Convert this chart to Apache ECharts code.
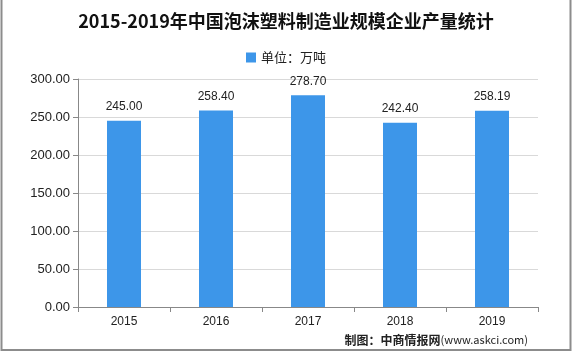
<!DOCTYPE html>
<html>
<head>
<meta charset="utf-8">
<script src="https://cdn.jsdelivr.net/npm/echarts@6/dist/echarts.min.js"></script>
<style>
html, body { margin: 0; padding: 0; background: #fff; }
#chart { width: 572px; height: 354px; }
</style>
</head>
<body>
<div id="chart"></div>
<script>
const years = ['2015', '2016', '2017', '2018', '2019'];
const output = [245.00, 258.40, 278.70, 242.40, 258.19];

const chart = echarts.init(document.getElementById('chart'));
chart.setOption({
	animation: false,
	backgroundColor: '#fff',
	title: {
		text: '2015-2019年中国泡沫塑料制造业规模企业产量统计',
		left: 'center',
		top: 7,
		textStyle: {
			fontFamily: 'Noto Sans CJK SC',
			fontSize: 18,
			fontWeight: 'bold',
			color: '#111'
		}
	},
	legend: {
		top: 46,
		left: 'center',
		itemWidth: 10,
		itemHeight: 10,
		icon: 'rect',
		textStyle: { fontSize: 13, color: '#222', fontFamily: 'Noto Sans CJK SC' },
		data: ['单位：万吨']
	},
	grid: { left: 78, right: 34, top: 79, bottom: 47 },
	xAxis: {
		type: 'category',
		data: years,
		axisLine: { lineStyle: { color: '#888' } },
		axisTick: { show: true, alignWithLabel: false, length: 5, lineStyle: { color: '#888' } },
		axisLabel: { color: '#222', fontSize: 12, margin: 9 }
	},
	yAxis: {
		type: 'value',
		min: 0,
		max: 300,
		interval: 50,
		axisLine: { show: true, lineStyle: { color: '#888' } },
		axisTick: { show: true, length: 5, lineStyle: { color: '#888' } },
		axisLabel: {
			color: '#222',
			fontSize: 13,
			margin: 8,
			formatter: v => v.toFixed(2)
		},
		splitLine: { lineStyle: { color: '#d9d9d9' } }
	},
	series: [{
		name: '单位：万吨',
		type: 'bar',
		data: output,
		barWidth: 34,
		itemStyle: { color: '#3d96e9' },
		label: {
			show: true,
			position: 'top',
			distance: 8,
			color: '#222',
			fontSize: 12,
			formatter: p => p.value.toFixed(2)
		}
	}],
	graphic: [
		{
			type: 'rect',
			shape: { x: 1.5, y: -2, width: 569, height: 352 },
			style: { fill: 'none', stroke: '#8c8c8c', lineWidth: 2 },
			silent: true
		},
		{
			type: 'text',
			right: 44,
			top: 334,
			style: {
				text: '{b|制图：中商情报网}{n|(www.askci.com)}',
				rich: {
					b: { fontSize: 12, fontWeight: 'bold', fill: '#222', fontFamily: 'Noto Sans CJK SC' },
					n: { fontSize: 11, fill: '#222', fontFamily: 'Noto Sans CJK SC' }
				}
			}
		}
	]
});
</script>
</body>
</html>
